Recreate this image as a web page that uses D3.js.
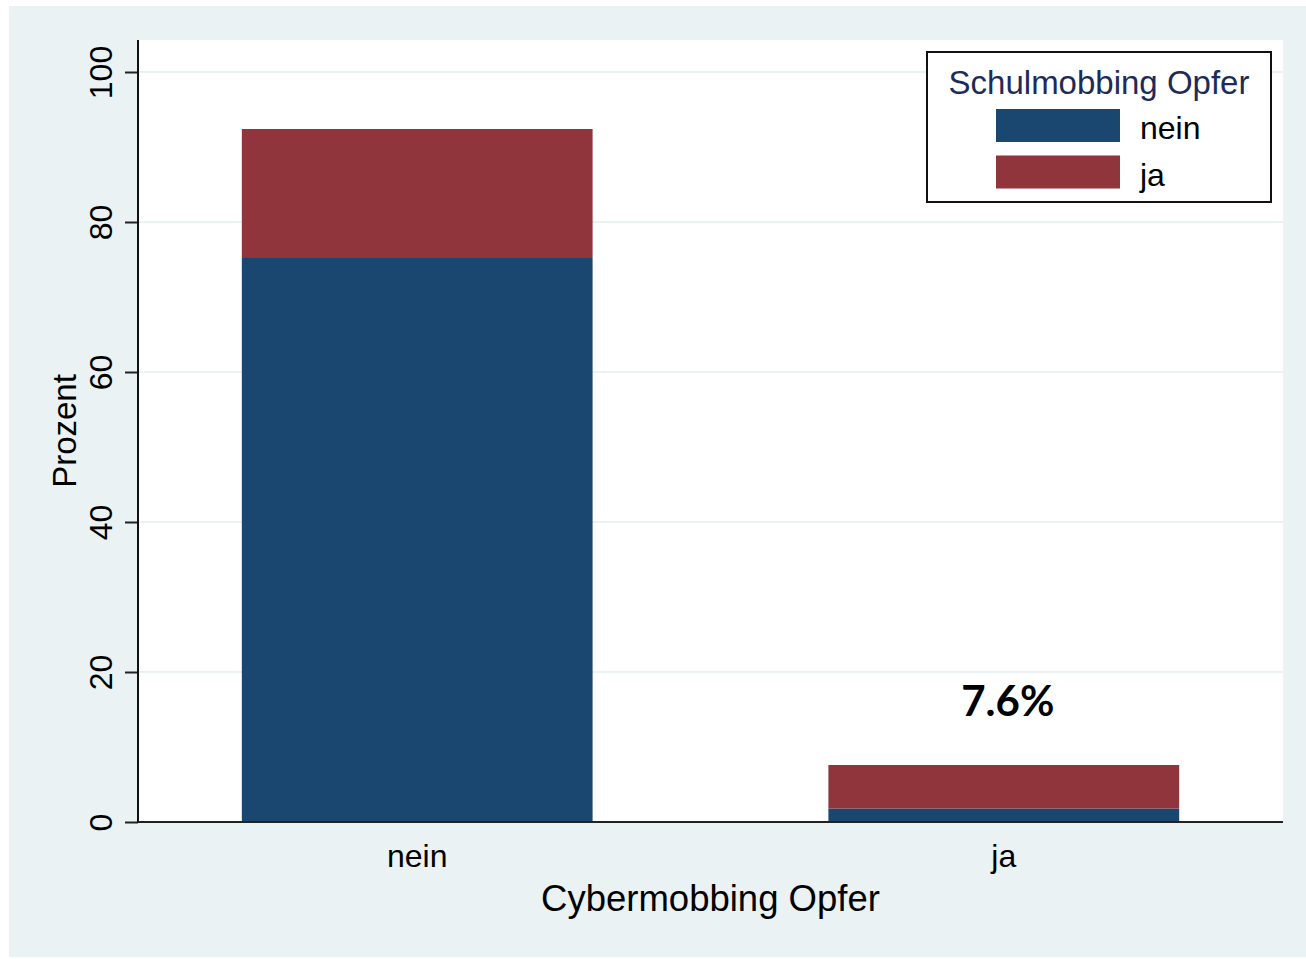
<!DOCTYPE html>
<html>
<head>
<meta charset="utf-8">
<script src="https://cdn.jsdelivr.net/npm/d3@7"></script>
<style>
  body { margin: 0; background: #fff; }
  text { font-family: "Liberation Sans", Arial, sans-serif; }
</style>
</head>
<body>
<div id="chart-area"></div>
<script>
// Cybermobbing Opfer on the x axis, stacked by Schulmobbing Opfer
const categories = ["nein", "ja"];
const seriesNames = ["nein", "ja"];
const neinValues = [75.2, 1.8];
const jaValues = [17.2, 5.8];
const yTicks = [0, 20, 40, 60, 80, 100];
const barLabel = "7.6%";
const colors = ["#1a476f", "#90353b"];

const W = 1306, H = 959;
const plot = { left: 138, right: 1283, top: 40, bottom: 822 };

const rows = categories.map((c, i) => ({ cat: c, nein: neinValues[i], ja: jaValues[i] }));
const stacked = d3.stack().keys(seriesNames)(rows);

const svg = d3.select('#chart-area')
  .append('svg')
  .attr('width', W)
  .attr('height', H);

// outer background
svg.append('rect')
  .attr('x', 9).attr('y', 6)
  .attr('width', W - 9).attr('height', 951)
  .attr('fill', '#eaf2f3');

svg.append('rect')
  .attr('x', plot.left).attr('y', plot.top)
  .attr('width', plot.right - plot.left).attr('height', plot.bottom - plot.top)
  .attr('fill', '#fff');

const x = d3.scaleBand()
  .domain(categories)
  .range([plot.left, plot.right])
  .paddingInner(0.402)
  .paddingOuter(0.177);

const y = d3.scaleLinear()
  .domain([0, 100])
  .range([plot.bottom, 72]);

// gridlines
svg.append('g')
  .selectAll('line')
  .data(yTicks.filter(t => t > 0))
  .enter()
  .append('line')
  .attr('x1', plot.left).attr('x2', plot.right)
  .attr('y1', d => y(d)).attr('y2', d => y(d))
  .attr('stroke', '#eaf2f3')
  .attr('stroke-width', 2);

// bars
svg.append('g')
  .selectAll('g')
  .data(stacked)
  .enter()
  .append('g')
  .attr('fill', (d, i) => colors[i])
  .selectAll('rect')
  .data(d => d)
  .enter()
  .append('rect')
  .attr('x', d => x(d.data.cat))
  .attr('y', d => y(d[1]))
  .attr('width', x.bandwidth())
  .attr('height', d => y(d[0]) - y(d[1]));

// y axis
const yAxis = svg.append('g')
  .attr('transform', `translate(${plot.left},0)`)
  .call(d3.axisLeft(y).tickValues(yTicks).tickSize(13).tickPadding(0).tickFormat(d3.format('d')));
yAxis.select('.domain').remove();
yAxis.selectAll('.tick line').attr('stroke', '#222').attr('stroke-width', 2);
yAxis.selectAll('.tick text')
  .attr('font-size', 32)
  .attr('fill', '#000')
  .attr('text-anchor', 'middle')
  .attr('x', 0).attr('dy', 0)
  .attr('transform', 'translate(-26,0) rotate(-90)');

svg.append('line')
  .attr('x1', plot.left).attr('x2', plot.left)
  .attr('y1', plot.top).attr('y2', plot.bottom + 1)
  .attr('stroke', '#111').attr('stroke-width', 2);

// x axis
const xAxis = svg.append('g')
  .attr('transform', `translate(0,${plot.bottom})`)
  .call(d3.axisBottom(x).tickSize(0).tickPadding(0));
xAxis.select('.domain').remove();
xAxis.selectAll('.tick text')
  .attr('font-size', 32)
  .attr('fill', '#000')
  .attr('y', 45).attr('dy', 0);

svg.append('line')
  .attr('x1', plot.left).attr('x2', plot.right)
  .attr('y1', plot.bottom).attr('y2', plot.bottom)
  .attr('stroke', '#222').attr('stroke-width', 2);

// axis titles
svg.append('text')
  .attr('x', (plot.left + plot.right) / 2).attr('y', 911)
  .attr('text-anchor', 'middle')
  .attr('font-size', 36.5)
  .text('Cybermobbing Opfer');

svg.append('text')
  .attr('transform', 'translate(76,' + ((plot.top + plot.bottom) / 2) + ') rotate(-90)')
  .attr('text-anchor', 'middle')
  .attr('font-size', 33)
  .text('Prozent');

// annotation above the "ja" bar
svg.append('text')
  .attr('x', x('ja') + x.bandwidth() / 2 + 4)
  .attr('y', 716)
  .attr('text-anchor', 'middle')
  .attr('font-weight', 'bold')
  .attr('font-size', 42)
  .style('font-family', 'Lato, sans-serif')
  .text(barLabel);

// legend
const legend = svg.append('g');
legend.append('rect')
  .attr('x', 927).attr('y', 52)
  .attr('width', 344).attr('height', 150)
  .attr('fill', '#fff')
  .attr('stroke', '#111').attr('stroke-width', 2);
legend.append('text')
  .attr('x', 1099).attr('y', 94)
  .attr('text-anchor', 'middle')
  .attr('font-size', 33)
  .attr('fill', '#1c2b58')
  .text('Schulmobbing Opfer');
const items = legend.selectAll('g.item')
  .data(seriesNames)
  .enter()
  .append('g')
  .attr('transform', (d, i) => `translate(996,${109 + i * 46.5})`);
items.append('rect')
  .attr('width', 124).attr('height', 33)
  .attr('fill', (d, i) => colors[i]);
items.append('text')
  .attr('x', 144).attr('y', 30)
  .attr('font-size', 32)
  .attr('fill', '#000')
  .text(d => d);
</script>
</body>
</html>
